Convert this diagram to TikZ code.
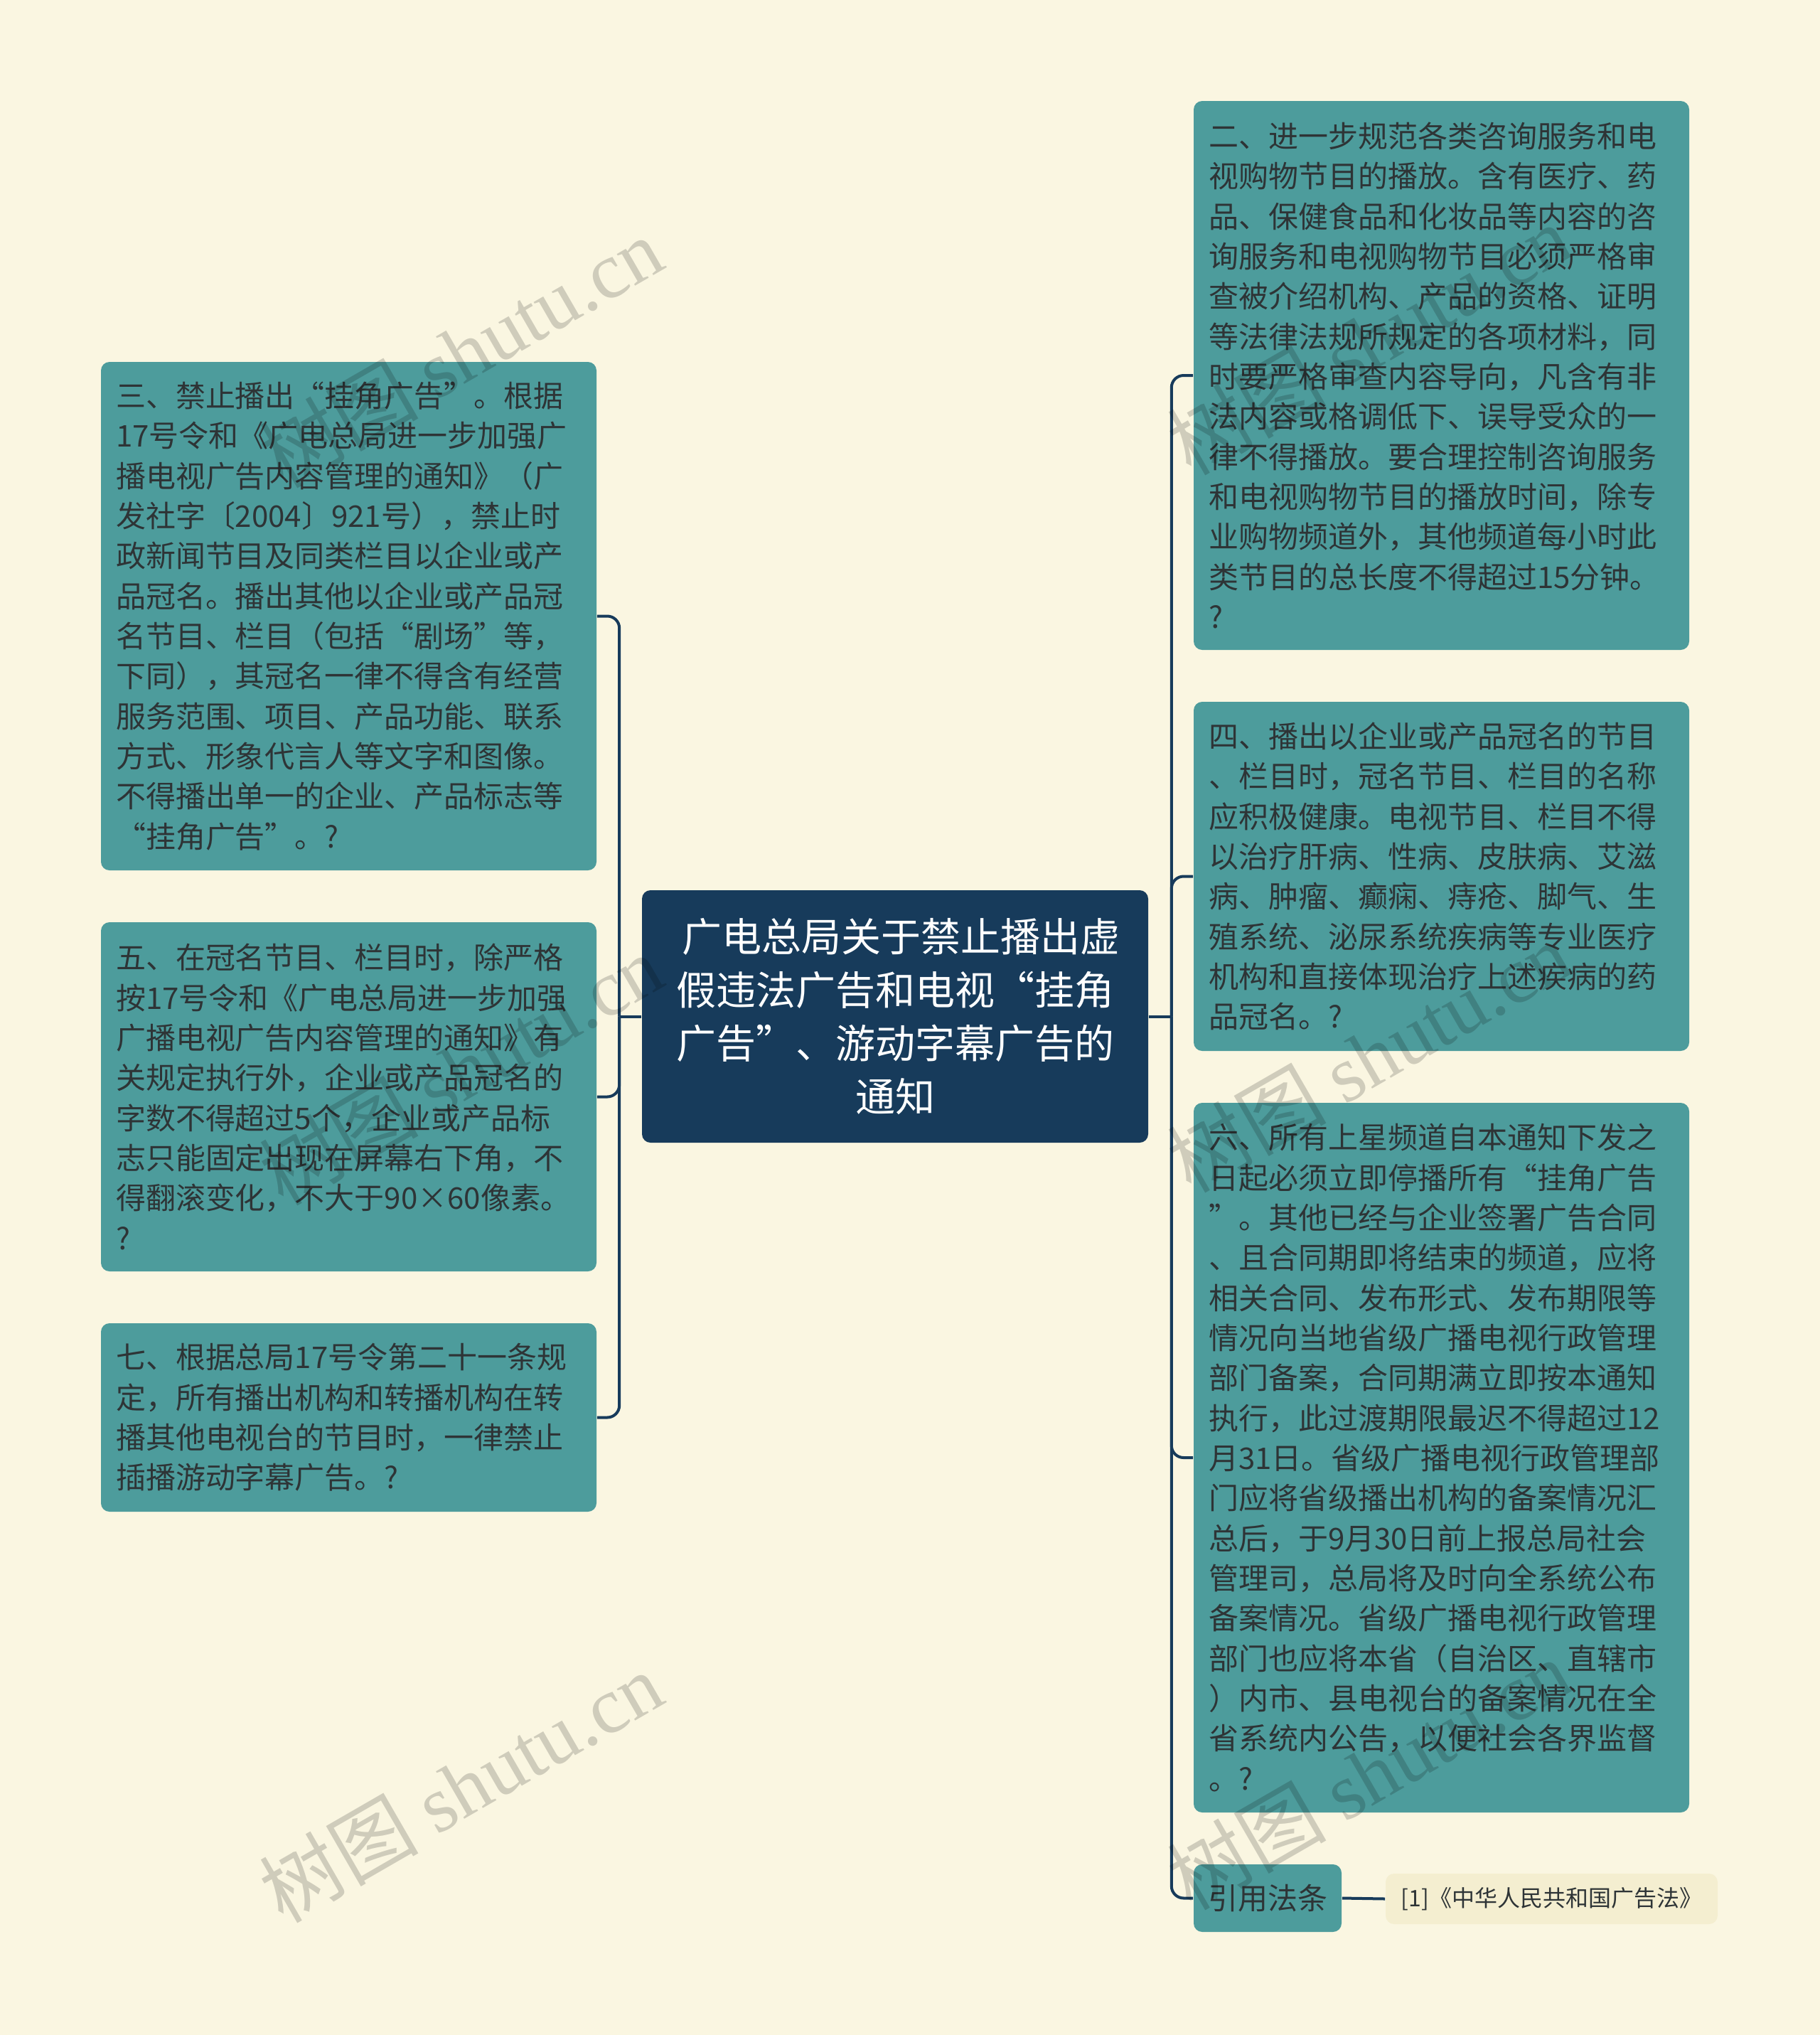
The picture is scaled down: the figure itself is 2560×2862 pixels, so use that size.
\documentclass[tikz,border=0pt]{standalone}
\usepackage{fontspec}
\setmainfont{Noto Sans CJK SC}
\newfontfamily\wmlat{Liberation Serif}
\definecolor{bgc}{HTML}{FAF6E1}
\definecolor{tealc}{HTML}{4D9C9C}
\definecolor{navyc}{HTML}{173B5B}
\definecolor{txtc}{HTML}{2E3436}
\definecolor{litc}{HTML}{F4EED0}
\begin{document}
\begin{tikzpicture}[x=0.25pt,y=-0.25pt,
  leaf/.style={fill=tealc, rounded corners=3pt, text=txtc,
    font=\fontsize{10.5pt}{14.08pt}\selectfont, align=left,
    text width=163.75pt, inner xsep=5.25pt, inner ysep=0pt},
  root/.style={fill=navyc, rounded corners=3pt, text=white,
    font=\fontsize{14pt}{18.75pt}\selectfont, align=center,
    minimum width=178pt, minimum height=88.75pt, inner sep=0pt},
  refbox/.style={fill=tealc, rounded corners=3pt, text=txtc,
    font=\fontsize{10.5pt}{12pt}\selectfont,
    minimum width=52pt, minimum height=23.75pt, inner sep=0pt},
  litbox/.style={fill=litc, rounded corners=3pt, text=txtc,
    font=\fontsize{8pt}{10pt}\selectfont,
    minimum width=116.75pt, minimum height=17.75pt, inner sep=0pt},
  conn/.style={draw=navyc, line width=1pt, rounded corners=4.25pt},
  wm/.style={text=black, text opacity=0.17, font=\fontsize{28pt}{28pt}\selectfont,
    inner sep=0pt, rotate=30}]

\fill[bgc] (0,0) rectangle (2560,2862);
\useasboundingbox (0,0) rectangle (2560,2862);

% root
\node[root] (c) at (1259,1429.5) {\hspace*{0.3em}广电总局关于禁止播出虚\\假违法广告和电视“挂角\\广告”、游动字幕广告的\\通知};

% left
\node[leaf, minimum height=178.75pt] (n3) at (490.5,866.5) {三、禁止播出“挂角广告”。根据\\17号令和《广电总局进一步加强广\\播电视广告内容管理的通知》（广\\发社字〔2004〕921号），禁止时\\政新闻节目及同类栏目以企业或产\\品冠名。播出其他以企业或产品冠\\名节目、栏目（包括“剧场”等，\\下同），其冠名一律不得含有经营\\服务范围、项目、产品功能、联系\\方式、形象代言人等文字和图像。\\不得播出单一的企业、产品标志等\\“挂角广告”。?};
\node[leaf, minimum height=122.75pt] (n5) at (490.5,1542.5) {五、在冠名节目、栏目时，除严格\\按17号令和《广电总局进一步加强\\广播电视广告内容管理的通知》有\\关规定执行外，企业或产品冠名的\\字数不得超过5个，企业或产品标\\志只能固定出现在屏幕右下角，不\\得翻滚变化，不大于90×60像素。\\?};
\node[leaf, minimum height=66.25pt] (n7) at (490.5,1993.5) {七、根据总局17号令第二十一条规\\定，所有播出机构和转播机构在转\\播其他电视台的节目时，一律禁止\\插播游动字幕广告。?};

% right
\node[leaf, minimum height=193pt] (n2) at (2027.5,528) {二、进一步规范各类咨询服务和电\\视购物节目的播放。含有医疗、药\\品、保健食品和化妆品等内容的咨\\询服务和电视购物节目必须严格审\\查被介绍机构、产品的资格、证明\\等法律法规所规定的各项材料，同\\时要严格审查内容导向，凡含有非\\法内容或格调低下、误导受众的一\\律不得播放。要合理控制咨询服务\\和电视购物节目的播放时间，除专\\业购物频道外，其他频道每小时此\\类节目的总长度不得超过15分钟。\\?};
\node[leaf, minimum height=122.75pt] (n4) at (2027.5,1232.5) {四、播出以企业或产品冠名的节目\\、栏目时，冠名节目、栏目的名称\\应积极健康。电视节目、栏目不得\\以治疗肝病、性病、皮肤病、艾滋\\病、肿瘤、癫痫、痔疮、脚气、生\\殖系统、泌尿系统疾病等专业医疗\\机构和直接体现治疗上述疾病的药\\品冠名。?};
\node[leaf, minimum height=249.5pt] (n6) at (2027.5,2050) {六、所有上星频道自本通知下发之\\日起必须立即停播所有“挂角广告\\”。其他已经与企业签署广告合同\\、且合同期即将结束的频道，应将\\相关合同、发布形式、发布期限等\\情况向当地省级广播电视行政管理\\部门备案，合同期满立即按本通知\\执行，此过渡期限最迟不得超过12\\月31日。省级广播电视行政管理部\\门应将省级播出机构的备案情况汇\\总后，于9月30日前上报总局社会\\管理司，总局将及时向全系统公布\\备案情况。省级广播电视行政管理\\部门也应将本省（自治区、直辖市\\）内市、县电视台的备案情况在全\\省系统内公告，以便社会各界监督\\。?};
\node[refbox] (ref) at (1783,2669.5) {引用法条};
\node[litbox] (lit) at (2182.5,2670.5) {[1]《中华人民共和国广告法》};

% connectors
\draw[conn] (c.west) -- ++(-31,0) coordinate (lj);
\draw[conn] (lj) |- (n3.east);
\draw[conn] (lj) |- (n5.east);
\draw[conn] (lj) |- (n7.east);
\draw[conn] (c.east) -- ++(32,0) coordinate (rj);
\draw[conn] (rj) |- (n2.west);
\draw[conn] (rj) |- (n4.west);
\draw[conn] (rj) |- (n6.west);
\draw[conn] (rj) |- (ref.west);
\draw[conn] (ref.east) -- (lit.west);

% watermarks
\node[wm] (wm1) at (648,495) {树图 {\wmlat shutu.cn}};
\node[wm] (wm2) at (648,1504) {树图 {\wmlat shutu.cn}};
\node[wm] (wm3) at (648,2513) {树图 {\wmlat shutu.cn}};
\node[wm] (wm4) at (1925,477) {树图 {\wmlat shutu.cn}};
\node[wm] (wm5) at (1925,1486) {树图 {\wmlat shutu.cn}};
\node[wm] (wm6) at (1925,2495) {树图 {\wmlat shutu.cn}};
\end{tikzpicture}
\end{document}
